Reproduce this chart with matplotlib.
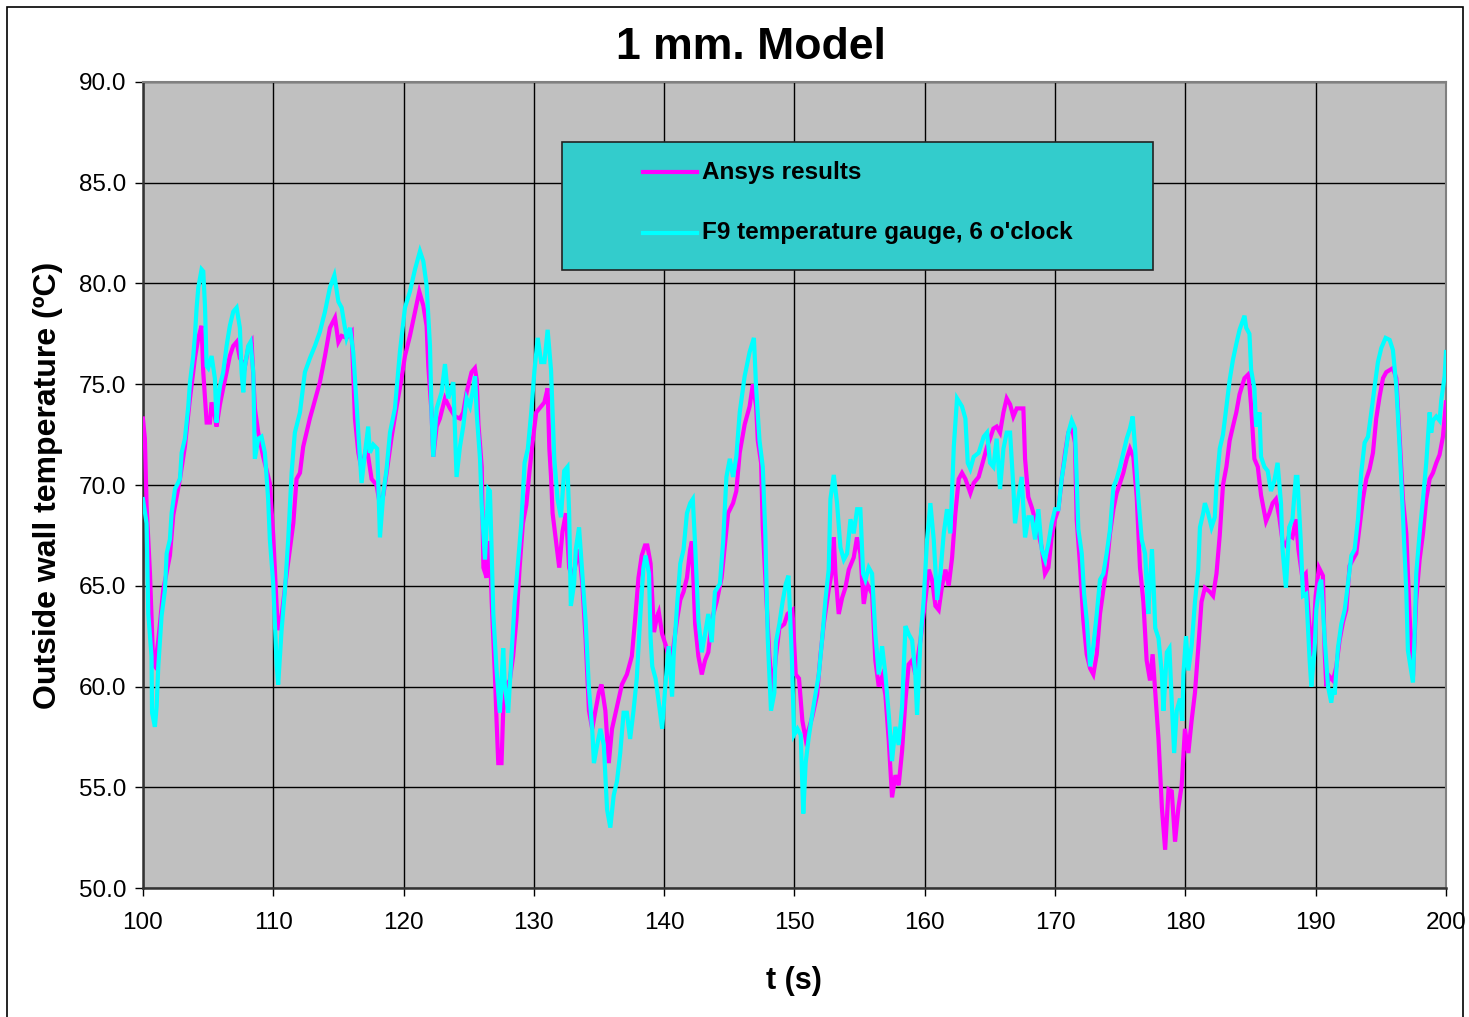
import numpy as np
import matplotlib
matplotlib.use("Agg")
import matplotlib.pyplot as plt
from matplotlib.patches import Rectangle
from matplotlib.lines import Line2D

plt.rcParams['font.family'] = ['Liberation Sans', 'DejaVu Sans']

# ---- data ----
ansys_t = [100.0, 100.15, 100.28, 100.54, 100.66, 100.79, 100.92, 101.18, 101.56, 102.07,
           102.33, 102.84, 103.22, 103.61, 103.99, 104.25, 104.5, 104.63, 104.89, 105.14,
           105.27, 105.52, 105.65, 105.91, 106.16, 106.42, 106.67, 106.93, 107.19, 107.44,
           107.83, 108.08, 108.34, 108.59, 108.85, 109.23, 109.74, 110.0, 110.26, 110.38,
           110.64, 111.03, 111.54, 111.79, 112.05, 112.3, 112.81, 113.07, 113.58, 113.97,
           114.35, 114.74, 115.0, 115.25, 115.63, 116.02, 116.27, 116.53, 116.78, 117.17,
           117.55, 117.93, 118.19, 118.45, 118.7, 119.09, 119.47, 119.85, 120.11, 120.49,
           120.88, 121.21, 121.52, 121.77, 121.9, 122.15, 122.28, 122.54, 122.79, 123.18,
           123.56, 123.95, 124.33, 124.58, 124.84, 125.22, 125.48, 125.62, 125.75, 126.0,
           126.13, 126.38, 126.51, 126.63, 126.76, 127.01, 127.14, 127.27, 127.52, 127.65,
           127.9, 128.15, 128.41, 128.66, 128.91, 129.16, 129.42, 129.67, 129.92, 130.18,
           130.56, 130.81, 131.06, 131.19, 131.32, 131.44, 131.7, 131.95, 132.2, 132.46,
           132.71, 132.96, 133.22, 133.47, 133.72, 133.97, 134.23, 134.48, 134.73, 134.99,
           135.19, 135.49, 135.75, 136.0, 136.38, 136.76, 137.14, 137.52, 137.77, 138.03,
           138.28, 138.53, 138.71, 138.96, 139.22, 139.47, 139.59, 139.85, 140.1, 140.35,
           140.61, 140.99, 141.24, 141.49, 141.75, 142.0, 142.13, 142.38, 142.63, 142.89,
           143.14, 143.39, 143.65, 144.03, 144.41, 144.66, 144.91, 145.29, 145.54, 145.8,
           146.18, 146.56, 146.81, 147.06, 147.19, 147.44, 147.57, 147.82, 148.08, 148.33,
           148.58, 148.84, 149.22, 149.47, 149.85, 150.1, 150.35, 150.61, 150.86, 151.11,
           151.37, 151.74, 151.99, 152.25, 152.63, 152.89, 153.02, 153.15, 153.4, 153.66,
           153.91, 154.17, 154.55, 154.8, 155.06, 155.19, 155.32, 155.57, 155.96, 156.21,
           156.47, 156.73, 156.98, 157.24, 157.49, 157.75, 158.0, 158.26, 158.52, 158.77,
           159.03, 159.28, 159.67, 160.05, 160.31, 160.56, 160.82, 161.07, 161.33, 161.59,
           161.84, 162.1, 162.35, 162.61, 162.86, 163.12, 163.5, 163.76, 164.14, 164.53,
           164.78, 165.01, 165.27, 165.52, 165.78, 166.04, 166.29, 166.55, 166.8, 167.06,
           167.31, 167.57, 167.7, 167.95, 168.21, 168.47, 168.72, 168.98, 169.23, 169.49,
           169.74, 170.0, 170.26, 170.51, 170.77, 171.02, 171.28, 171.53, 171.66, 171.92,
           172.17, 172.43, 172.69, 172.94, 173.2, 173.45, 173.71, 173.96, 174.22, 174.48,
           174.73, 174.99, 175.24, 175.5, 175.75, 176.01, 176.27, 176.52, 176.78, 177.03,
           177.29, 177.49, 177.69, 177.94, 178.2, 178.45, 178.71, 178.96, 179.21, 179.47,
           179.72, 179.97, 180.23, 180.48, 180.74, 180.99, 181.24, 181.5, 181.88, 182.13,
           182.39, 182.64, 182.89, 183.15, 183.4, 183.65, 183.91, 184.16, 184.54, 184.85,
           185.05, 185.3, 185.56, 185.81, 186.07, 186.19, 186.45, 186.7, 186.95, 187.21,
           187.46, 187.72, 187.97, 188.22, 188.48, 188.68, 188.98, 189.24, 189.49, 189.75,
           190.0, 190.25, 190.56, 190.69, 190.82, 191.07, 191.33, 191.59, 191.84, 192.1,
           192.35, 192.61, 192.86, 193.12, 193.38, 193.63, 193.89, 194.14, 194.4, 194.65,
           194.91, 195.17, 195.42, 195.68, 195.93, 196.19, 196.45, 196.7, 196.96, 197.21,
           197.47, 197.72, 197.98, 198.24, 198.49, 198.75, 199.0, 199.26, 199.51, 199.77,
           200.0]
ansys_T = [73.3, 72.3, 69.0, 65.6, 63.5, 61.1, 61.0, 62.3, 64.8, 66.5,
           68.5, 70.3, 71.9, 74.3, 76.3, 77.3, 77.9, 75.6, 73.1, 73.1,
           74.1, 73.4, 72.9, 74.0, 74.8, 75.6, 76.4, 76.9, 77.1, 76.3,
           75.9, 76.8, 77.1, 73.8, 72.6, 71.4, 70.1, 67.5, 64.0, 62.8,
           63.5, 65.6, 68.1, 70.3, 70.6, 71.9, 73.3, 73.9, 75.1, 76.4,
           77.8, 78.3, 77.1, 77.4, 77.3, 77.6, 73.3, 71.6, 70.8, 71.9,
           70.3, 70.0, 69.0, 69.5, 70.6, 72.4, 73.9, 75.3, 76.4, 77.4,
           78.6, 79.6, 78.9, 77.9, 75.9, 73.6, 71.4, 72.9, 73.3, 74.3,
           73.8, 73.4, 73.3, 73.6, 74.6, 75.6, 75.8, 75.2, 73.0, 70.9,
           65.9, 65.4, 67.2, 67.0, 64.3, 60.6, 58.3, 56.2, 56.2, 58.8,
           60.1, 60.3, 61.5, 63.3, 65.9, 68.1, 69.0, 70.7, 72.2, 73.6,
           73.9, 74.1, 74.8, 71.8, 70.4, 68.6, 67.2, 65.9, 67.7, 68.6,
           65.9, 65.4, 66.1, 66.8, 65.1, 62.4, 58.8, 57.9, 58.8, 59.7,
           60.1, 58.8, 56.2, 57.9, 59.0, 60.1, 60.6, 61.5, 63.3, 65.4,
           66.5, 67.0, 67.0, 66.1, 62.7, 63.5, 63.7, 62.6, 62.1, 61.5,
           61.5, 63.3, 64.3, 64.7, 65.4, 66.8, 67.2, 63.1, 61.5, 60.6,
           61.3, 61.7, 63.3, 64.2, 65.4, 67.0, 68.6, 69.1, 69.7, 71.6,
           73.0, 73.9, 75.0, 73.9, 72.2, 71.1, 67.9, 64.7, 61.5, 59.7,
           61.5, 62.9, 63.1, 63.6, 63.8, 60.6, 60.4, 58.3, 57.4, 57.9,
           58.5, 59.6, 61.5, 63.1, 64.8, 65.8, 67.4, 65.6, 63.6, 64.4,
           64.9, 65.8, 66.4, 67.4, 66.6, 65.3, 64.1, 65.1, 64.6, 61.3,
           60.0, 60.5, 59.6, 57.3, 54.5, 55.6, 55.1, 56.8, 59.3, 61.1,
           61.3, 60.6, 62.3, 64.3, 65.8, 65.3, 64.0, 63.8, 65.0, 65.8,
           65.0, 66.4, 68.6, 70.3, 70.6, 70.3, 69.6, 70.1, 70.4, 71.3,
           71.9, 72.3, 72.8, 72.9, 72.6, 73.6, 74.3, 74.0, 73.4, 73.8,
           73.8, 73.8, 71.3, 69.4, 68.9, 68.3, 67.6, 66.9, 65.6, 65.9,
           67.4, 68.3, 68.8, 70.3, 71.6, 72.6, 72.9, 72.1, 68.3, 66.0,
           63.3, 61.6, 60.9, 60.6, 61.6, 63.6, 64.8, 65.9, 67.6, 68.8,
           69.6, 70.1, 70.6, 71.3, 71.8, 71.4, 69.4, 65.9, 64.2, 61.3,
           60.3, 61.6, 59.7, 57.4, 54.0, 51.9, 54.9, 54.8, 52.3, 54.0,
           55.1, 57.9, 56.7, 58.3, 59.7, 61.9, 64.2, 64.9, 64.7, 64.5,
           65.6, 67.5, 70.0, 70.9, 72.2, 72.9, 73.6, 74.5, 75.3, 75.5,
           73.9, 71.3, 70.9, 69.5, 68.6, 68.2, 68.6, 69.1, 69.3, 68.4,
           67.2, 67.0, 67.5, 67.4, 68.3, 66.8, 65.4, 65.6, 63.3, 61.5,
           64.5, 65.9, 65.5, 61.8, 60.0, 60.5, 60.3, 61.0, 62.3, 63.2,
           63.8, 66.0, 66.3, 66.6, 68.0, 69.3, 70.3, 70.8, 71.6, 73.3,
           74.4, 75.3, 75.6, 75.7, 75.8, 75.3, 72.3, 69.3, 67.6, 63.5,
           60.5, 64.3, 66.3, 67.6, 69.3, 70.3, 70.6, 71.1, 71.5, 72.4,
           74.1]

gauge_t = [100.0, 100.28, 100.41, 100.66, 100.7, 100.92, 101.05, 101.18, 101.43, 101.69,
           101.82, 102.07, 102.2, 102.46, 102.84, 102.97, 103.22, 103.48, 103.61, 103.86,
           103.99, 104.12, 104.25, 104.5, 104.63, 104.76, 104.89, 105.01, 105.27, 105.52,
           105.65, 105.78, 105.91, 106.16, 106.42, 106.67, 106.93, 107.19, 107.44, 107.57,
           107.7, 107.83, 108.08, 108.26, 108.47, 108.59, 108.85, 109.1, 109.36, 109.61,
           109.74, 110.0, 110.13, 110.26, 110.38, 110.64, 110.9, 111.15, 111.41, 111.66,
           112.05, 112.43, 112.82, 113.2, 113.58, 113.97, 114.35, 114.69, 115.0, 115.25,
           115.63, 115.89, 116.14, 116.27, 116.53, 116.78, 117.04, 117.29, 117.42, 117.68,
           117.98, 118.19, 118.45, 118.7, 118.96, 119.34, 119.72, 120.11, 120.49, 120.88,
           121.26, 121.52, 121.77, 122.03, 122.15, 122.28, 122.54, 122.92, 123.18, 123.43,
           123.82, 124.07, 124.33, 124.58, 124.84, 125.1, 125.35, 125.49, 125.62, 125.87,
           126.0, 126.25, 126.51, 126.63, 126.76, 126.89, 127.14, 127.39, 127.65, 127.77,
           128.03, 128.28, 128.53, 128.78, 129.04, 129.29, 129.54, 129.8, 130.05, 130.3,
           130.56, 130.81, 131.06, 131.32, 131.57, 131.82, 132.08, 132.33, 132.58, 132.71,
           132.84, 133.09, 133.22, 133.47, 133.72, 133.97, 134.23, 134.48, 134.61, 134.86,
           135.11, 135.37, 135.62, 135.87, 136.13, 136.38, 136.63, 136.89, 137.14, 137.39,
           137.65, 137.9, 138.15, 138.41, 138.58, 138.84, 138.96, 139.09, 139.34, 139.59,
           139.85, 140.1, 140.35, 140.61, 140.73, 140.99, 141.24, 141.49, 141.75, 142.0,
           142.2, 142.38, 142.63, 142.89, 143.14, 143.39, 143.65, 143.9, 144.28, 144.53,
           144.78, 145.04, 145.29, 145.54, 145.8, 146.18, 146.56, 146.89, 147.06, 147.32,
           147.57, 147.77, 147.95, 148.2, 148.46, 148.58, 148.84, 149.09, 149.34, 149.54,
           149.8, 149.97, 150.23, 150.48, 150.68, 150.86, 151.1, 151.36, 151.61, 151.87,
           152.12, 152.38, 152.63, 152.76, 153.02, 153.27, 153.53, 153.79, 154.04, 154.3,
           154.55, 154.81, 155.06, 155.27, 155.45, 155.7, 155.96, 156.21, 156.47, 156.73,
           156.98, 157.24, 157.49, 157.75, 158.0, 158.26, 158.52, 158.77, 159.03, 159.28,
           159.41, 159.67, 159.92, 160.18, 160.43, 160.69, 160.95, 161.2, 161.46, 161.71,
           161.97, 162.23, 162.48, 162.86, 163.12, 163.3, 163.5, 163.76, 164.14, 164.53,
           164.78, 165.01, 165.27, 165.52, 165.78, 166.04, 166.29, 166.55, 166.8, 166.93,
           167.19, 167.44, 167.7, 167.95, 168.21, 168.47, 168.72, 168.98, 169.23, 169.49,
           169.74, 170.0, 170.26, 170.51, 170.77, 171.02, 171.28, 171.53, 171.66, 171.79,
           172.05, 172.23, 172.43, 172.69, 172.94, 173.2, 173.45, 173.71, 173.96, 174.22,
           174.48, 174.73, 174.99, 175.24, 175.5, 175.75, 175.96, 176.14, 176.39, 176.65,
           176.91, 177.16, 177.29, 177.44, 177.56, 177.69, 177.94, 178.2, 178.32, 178.58,
           178.78, 178.96, 179.14, 179.34, 179.59, 179.77, 179.85, 180.05, 180.23, 180.48,
           180.74, 180.99, 181.12, 181.37, 181.5, 181.75, 182.01, 182.26, 182.39, 182.64,
           182.89, 183.15, 183.4, 183.65, 183.91, 184.16, 184.54, 184.67, 184.92, 185.05,
           185.3, 185.43, 185.69, 185.81, 186.07, 186.32, 186.57, 186.83, 187.08, 187.34,
           187.46, 187.72, 187.97, 188.22, 188.48, 188.6, 188.86, 189.03, 189.28, 189.54,
           189.67, 189.92, 190.05, 190.31, 190.43, 190.69, 190.95, 191.2, 191.33, 191.46,
           191.71, 191.97, 192.23, 192.48, 192.74, 192.99, 193.25, 193.5, 193.76, 194.02,
           194.27, 194.53, 194.78, 195.04, 195.37, 195.68, 195.93, 196.19, 196.45, 196.7,
           196.96, 197.08, 197.47, 197.6, 197.72, 197.98, 198.24, 198.49, 198.75, 198.87,
           199.0, 199.26, 199.51, 199.64, 199.9, 200.0]
gauge_T = [69.3, 68.1, 63.6, 61.5, 58.7, 58.0, 59.0, 61.0, 63.5, 64.8,
           66.6, 67.3, 68.6, 69.8, 70.3, 71.6, 72.3, 73.9, 75.1, 76.4,
           77.4, 78.8, 79.8, 80.7, 80.6, 78.9, 75.9, 75.8, 76.4, 75.3,
           73.1, 74.3, 74.9, 75.6, 76.9, 77.9, 78.6, 78.8, 77.8, 75.6,
           74.6, 75.9, 76.9, 77.1, 75.6, 71.3, 72.3, 72.4, 71.6, 69.3,
           67.3, 65.1, 63.1, 61.1, 60.1, 62.8, 64.8, 67.3, 70.6, 72.6,
           73.6, 75.6, 76.3, 76.9, 77.6, 78.6, 79.8, 80.4, 79.1, 78.8,
           77.3, 77.8, 76.6, 75.3, 72.6, 70.1, 71.6, 72.9, 71.6, 72.0,
           71.8, 67.4, 69.6, 70.8, 72.6, 73.8, 76.6, 78.8, 79.6, 80.7,
           81.6, 81.1, 79.9, 76.9, 73.6, 71.4, 73.8, 74.6, 76.0, 74.3,
           75.1, 70.4, 71.9, 72.9, 74.3, 73.9, 74.8, 75.4, 73.5, 71.3,
           69.0, 66.3, 69.8, 69.7, 66.8, 63.6, 60.8, 58.7, 61.9, 60.1,
           58.7, 61.5, 64.2, 66.1, 68.1, 71.1, 71.8, 73.6, 75.7, 77.3,
           76.1, 76.1, 77.7, 75.7, 71.3, 69.3, 68.4, 70.7, 70.9, 68.6,
           64.0, 65.1, 66.8, 67.9, 65.6, 63.3, 59.9, 57.9, 56.2, 57.1,
           57.9, 57.1, 53.9, 53.0, 54.6, 55.3, 56.7, 58.7, 58.7, 57.4,
           58.8, 60.4, 63.3, 65.9, 66.5, 65.6, 62.4, 61.0, 60.4, 59.2,
           57.9, 60.1, 62.0, 59.5, 61.5, 64.0, 66.1, 66.8, 68.6, 69.1,
           69.3, 67.0, 63.3, 61.7, 62.6, 63.6, 62.2, 64.7, 65.1, 67.2,
           70.4, 71.3, 70.4, 71.4, 73.6, 75.4, 76.6, 77.3, 74.8, 72.2,
           70.9, 67.5, 62.4, 58.8, 59.7, 62.2, 63.1, 64.2, 65.1, 65.5,
           61.5, 57.6, 57.9, 57.6, 53.7, 56.2, 57.5, 58.6, 59.6, 60.6,
           62.3, 64.3, 65.8, 69.3, 70.5, 69.1, 66.9, 66.3, 66.6, 68.3,
           67.6, 68.8, 68.8, 65.6, 65.3, 65.9, 65.6, 62.6, 60.6, 62.0,
           60.6, 58.6, 56.3, 58.0, 57.1, 59.0, 63.0, 62.6, 62.3, 60.6,
           58.6, 62.3, 64.3, 67.3, 69.1, 67.3, 64.3, 65.6, 67.6, 68.8,
           67.6, 71.9, 74.3, 73.9, 73.3, 71.1, 70.8, 71.4, 71.6, 72.4,
           72.6, 71.1, 70.9, 72.3, 69.8, 71.8, 72.6, 72.6, 69.9, 68.1,
           69.4, 70.4, 67.4, 68.4, 68.4, 67.3, 68.8, 66.8, 66.3, 67.1,
           68.1, 68.8, 68.8, 70.3, 71.4, 72.6, 73.2, 72.8, 70.3, 67.8,
           66.6, 64.6, 63.3, 61.0, 62.0, 63.6, 65.3, 65.6, 66.6, 67.8,
           69.9, 70.3, 70.9, 71.6, 72.3, 72.8, 73.4, 71.9, 69.4, 67.3,
           66.6, 63.6, 65.3, 66.8, 65.1, 62.9, 62.4, 60.6, 58.8, 61.7,
           61.9, 59.2, 56.7, 58.8, 59.4, 58.3, 60.6, 62.5, 60.8, 62.0,
           64.2, 65.8, 67.9, 68.6, 69.1, 68.6, 67.9, 68.4, 70.0, 71.8,
           72.5, 73.9, 75.2, 76.2, 77.0, 77.7, 78.4, 77.8, 77.5, 75.7,
           74.8, 72.9, 73.6, 71.4, 70.9, 70.7, 69.7, 70.2, 71.1, 69.1,
           66.8, 64.9, 67.9, 68.3, 70.4, 70.4, 67.2, 64.5, 64.6, 61.3,
           60.0, 61.8, 63.8, 65.1, 65.3, 62.4, 60.0, 59.2, 59.9, 59.6,
           61.9, 63.1, 63.8, 65.1, 66.5, 66.8, 68.3, 70.6, 72.1, 72.4,
           73.6, 74.9, 76.1, 76.8, 77.3, 77.2, 76.7, 74.9, 71.8, 68.5,
           64.7, 61.8, 60.2, 62.7, 65.6, 67.6, 69.3, 71.1, 73.6, 72.6,
           73.2, 73.4, 73.2, 74.2, 75.4, 76.6]

series_labels = ["Ansys results", "F9 temperature gauge, 6 o'clock"]
x_ticks = np.arange(100, 201, 10)
y_ticks = np.arange(50, 90.1, 5)

fig = plt.figure(figsize=(14.69, 10.17), dpi=100)
ax = fig.add_axes([0.0973, 0.1268, 0.8870, 0.7926])

ax.set_facecolor('#C0C0C0')
ax.plot(ansys_t, ansys_T, color='#FF00FF', lw=3.0, solid_joinstyle='miter', zorder=3)
ax.plot(gauge_t, gauge_T, color='#00FFFF', lw=3.0, solid_joinstyle='miter', zorder=4)

ax.set_xlim(100, 200)
ax.set_ylim(50, 90)
ax.set_xticks(x_ticks)
ax.set_yticks(y_ticks)
ax.set_yticklabels(['%.1f' % v for v in y_ticks])
ax.grid(True, color='black', lw=1.0)
ax.set_axisbelow(True)
ax.tick_params(axis='both', direction='out', length=6, width=1, labelsize=17.5, color='black')
ax.tick_params(axis='x', pad=11)
ax.tick_params(axis='y', pad=6)
for side in ['left', 'bottom']:
    ax.spines[side].set_color('#333333')
    ax.spines[side].set_linewidth(1.8)
for side in ['top', 'right']:
    ax.spines[side].set_color('#808080')
    ax.spines[side].set_linewidth(1.5)

ax.set_xlabel('t (s)', fontsize=22, fontweight='bold', labelpad=23)
ax.set_ylabel('Outside wall temperature (\u00baC)', fontsize=23, fontweight='bold', labelpad=11)
fig.text(0.511, 0.953, '1 mm. Model', ha='center', va='center', fontsize=32, fontweight='bold')

# legend box drawn by hand to match the original placement
box = Rectangle((0.3216, 0.7667), 0.4535, 0.1589, transform=ax.transAxes,
                facecolor='#33CCCC', edgecolor='#222222', lw=1.2, zorder=6)
ax.add_patch(box)
colors = ['#FF00FF', '#00FFFF']
rows = [0.8883, 0.8127]
for lab, c, yy in zip(series_labels, colors, rows):
    ax.add_line(Line2D([0.3837, 0.4252], [yy, yy], transform=ax.transAxes,
                       color=c, lw=3.0, zorder=7))
    ax.text(0.4290, yy, lab, transform=ax.transAxes, va='center', ha='left',
            fontsize=17.5, fontweight='bold', zorder=7)

# outer frame of the chart
fig.patches.append(Rectangle((7 / 1469, -0.01), 1456 / 1469, 1 - 7 / 1017 + 0.01,
                             transform=fig.transFigure, fill=False,
                             edgecolor='black', lw=1.2))

plt.savefig('out.png', dpi=100)
